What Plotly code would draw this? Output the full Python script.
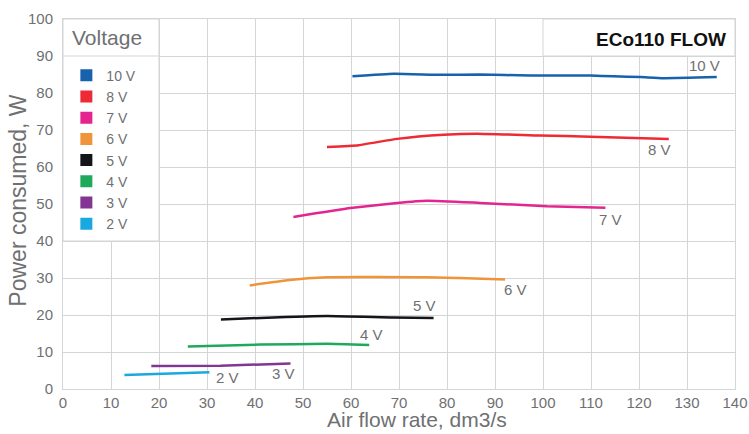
import plotly.graph_objects as go

# ---- data ----
series_names = ["10 V", "8 V", "7 V", "6 V", "5 V", "4 V", "3 V", "2 V"]

flow_10v = [60.3, 68.9, 78.6, 86.9, 97.4, 109.9, 114.7, 120.3, 125.1, 136.2]
power_10v = [84.5, 85.2, 84.9, 85.0, 84.7, 84.7, 84.5, 84.3, 84.0, 84.3]

flow_8v = [55.0, 61.6, 69.6, 79.3, 86.3, 99.4, 109.9, 126.2]
power_8v = [65.4, 65.9, 67.6, 68.7, 69.0, 68.5, 68.2, 67.6]

flow_7v = [48.0, 59.9, 69.6, 75.8, 86.9, 100.8, 113.0]
power_7v = [46.5, 48.9, 50.3, 50.9, 50.3, 49.4, 49.0]

flow_6v = [38.9, 46.7, 55.0, 75.8, 84.2, 92.1]
power_6v = [28.0, 29.4, 30.2, 30.2, 29.9, 29.6]

flow_5v = [32.9, 41.1, 55.0, 68.9, 77.2]
power_5v = [18.8, 19.2, 19.7, 19.3, 19.2]

flow_4v = [26.0, 41.1, 55.0, 63.8]
power_4v = [11.5, 12.0, 12.2, 11.9]

flow_3v = [18.4, 32.8, 47.4]
power_3v = [6.2, 6.3, 6.9]

flow_2v = [12.8, 30.5]
power_2v = [3.8, 4.5]

x_ticks = list(range(0, 141, 10))
y_ticks = list(range(0, 101, 10))

# label anchor points for the in-plot series labels
label_x = [133.6, 124.2, 114.0, 94.2, 75.3, 64.2, 45.9, 34.2]
label_y = [87.3, 64.7, 45.8, 26.9, 22.7, 14.7, 4.2, 3.1]

# ---- styling ----
colors = ["#1862ad", "#ee2a36", "#e5258f", "#f0943c", "#151419", "#20a95a", "#833594", "#1aa8e0"]
grid = "#d3d6d6"
txt = "#6f7072"
font_family = "Liberation Sans, Arial, sans-serif"

flows = [flow_10v, flow_8v, flow_7v, flow_6v, flow_5v, flow_4v, flow_3v, flow_2v]
powers = [power_10v, power_8v, power_7v, power_6v, power_5v, power_4v, power_3v, power_2v]

fig = go.Figure()

for name, xs, ys, c in zip(series_names, flows, powers, colors):
    fig.add_trace(go.Scatter(x=xs, y=ys, mode="lines", name=name,
                             line=dict(color=c, width=2.5, shape="spline", smoothing=0.4),
                             showlegend=False, hoverinfo="x+y+name"))

# legend entries (square swatches)
for name, c in zip(series_names, colors):
    fig.add_trace(go.Scatter(x=[None], y=[None], mode="markers", name=name,
                             marker=dict(symbol="square", size=13, color=c),
                             showlegend=True))

# series labels
for name, lx, ly in zip(series_names, label_x, label_y):
    fig.add_annotation(x=lx, y=ly, text=name, showarrow=False,
                       font=dict(size=15, color=txt, family=font_family),
                       xanchor="center", yanchor="middle")

# legend box and title box cover the grid
fig.add_shape(type="rect", x0=0, x1=20, y0=40, y1=100, xref="x", yref="y",
              fillcolor="white", line=dict(color=grid, width=1), layer="between")
fig.add_shape(type="line", x0=0, x1=20, y0=90, y1=90, xref="x", yref="y",
              line=dict(color=grid, width=1), layer="between")
fig.add_shape(type="rect", x0=100, x1=140, y0=90, y1=100, xref="x", yref="y",
              fillcolor="white", line=dict(color=grid, width=1), layer="between")

fig.add_annotation(x=1.4, y=95, text="Voltage", showarrow=False, xref="x", yref="y",
                   xanchor="left", yanchor="middle",
                   font=dict(size=21, color=txt, family=font_family))
fig.add_annotation(x=138.6, y=94.4, text="<b>ECo110 FLOW</b>", showarrow=False,
                   xref="x", yref="y", xanchor="right", yanchor="middle",
                   font=dict(size=19, color="#111111", family=font_family))

# axis titles
fig.add_annotation(x=-0.067, y=0.509, xref="paper", yref="paper", text="Power consumed, W",
                   textangle=-90, showarrow=False, xanchor="center", yanchor="middle",
                   font=dict(size=23, color=txt, family=font_family))
fig.add_annotation(x=0.527, y=-0.1195, xref="paper", yref="paper", text="Air flow rate, dm3/s",
                   showarrow=False, xanchor="center", yanchor="bottom",
                   font=dict(size=21, color=txt, family=font_family))

fig.update_layout(
    width=749, height=434,
    margin=dict(l=63, r=14, t=19, b=45),
    paper_bgcolor="white", plot_bgcolor="white",
    font=dict(family=font_family, color=txt, size=14),
    legend=dict(x=0.005, y=0.89, xanchor="left", yanchor="top",
                bgcolor="rgba(0,0,0,0)", font=dict(size=14, color=txt),
                itemsizing="constant"),
)
fig.update_xaxes(range=[0, 140], tickvals=x_ticks, showgrid=True, gridcolor=grid, gridwidth=1,
                 showline=True, linecolor=grid, mirror=True, zeroline=False, automargin=False,
                 ticks="", tickfont=dict(size=15, color=txt))
fig.update_yaxes(range=[0, 100], tickvals=y_ticks, showgrid=True, gridcolor=grid, gridwidth=1,
                 showline=True, linecolor=grid, mirror=True, zeroline=False, automargin=False,
                 ticks="", tickfont=dict(size=15, color=txt), ticklabelstandoff=6)

fig.write_html("out.html", config={"displayModeBar": False},
               post_script="document.body.style.margin='0';")
